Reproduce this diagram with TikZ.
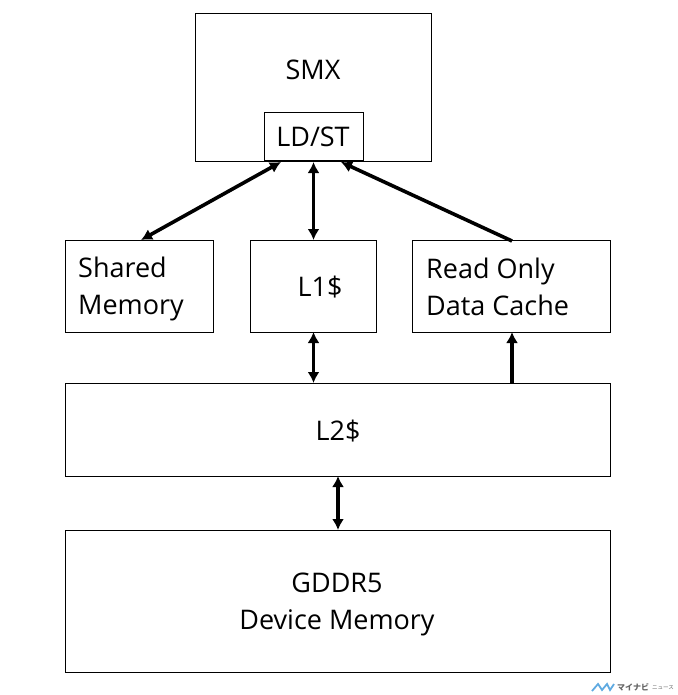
\documentclass[tikz,border=0pt]{standalone}
\usepackage{fontspec}
\setmainfont{Open Sans}
\newfontfamily\cjkfont{Noto Sans CJK JP}
\usetikzlibrary{calc}
\usetikzlibrary{arrows.meta}
\definecolor{logoblue}{RGB}{95,170,225}
\tikzset{
  block/.style={draw=black,line width=1.4pt,inner sep=0pt},
  label/.style={font=\fontsize{27}{37}\selectfont,align=left,inner sep=0pt},
  link/.style={line width=3.6pt,{Latex[length=11pt,width=12pt]}-{Latex[length=11pt,width=12pt]}},
  uplink/.style={line width=3.6pt,-{Latex[length=11pt,width=12pt]}}
}
\begin{document}
\begin{tikzpicture}[x=1pt,y=-1pt]
\useasboundingbox (0, 0) rectangle (677, 695);

\node [block,minimum width=236,minimum height=148,anchor=north west] (SMX) at (194.5, 13) {};
\node [label] (SMXtext) at (313, 70) {SMX};
\node [block,fill=white,minimum width=99,minimum height=48,anchor=north west] (LDST) at (263.5, 112) {};
\node [label] (LDSTtext) at (313, 137) {LD/ST};
\node [block,minimum width=148,minimum height=92,anchor=north west] (Shared) at (65, 240) {};
\node [label,anchor=west] (Sharedtext) at (78, 289) {Shared\\Memory};
\node [block,minimum width=126,minimum height=92,anchor=north west] (L1) at (250, 240) {};
\node [label] (L1text) at (320, 287) {L1\$};
\node [block,minimum width=198,minimum height=92,anchor=north west] (ROC) at (412, 240) {};
\node [label,anchor=west] (ROCtext) at (426, 287) {Read Only\\Data Cache};
\node [block,minimum width=545,minimum height=93,anchor=north west] (L2) at (65, 383) {};
\node [label] (L2text) at (338, 431) {L2\$};
\node [block,minimum width=545,minimum height=142,anchor=north west] (GDDR) at (65, 530) {};
\node [label,align=center] (GDDRtext) at (337, 604) {GDDR5\\Device Memory};

\coordinate (LDleft) at (281, 162);
\coordinate (LDmid) at (313.5, 162);
\coordinate (LDright) at (341, 162);
\coordinate (Sharedtop) at (141, 240);
\coordinate (L1top) at (313.5, 240);
\coordinate (ROCtop) at (512, 241);
\coordinate (L1bot) at (313.5, 332);
\coordinate (L2a) at (313.5, 383);
\coordinate (ROCbot) at (512, 332);
\coordinate (L2b) at (512, 383);
\coordinate (L2c) at (338, 476);
\coordinate (GDDRtop) at (338, 530);

\draw [link] (LDleft)--(Sharedtop);
\draw [link] (LDmid)--(L1top);
\draw [uplink] (ROCtop)--(LDright);
\draw [link] (L1bot)--(L2a);
\draw [uplink] (L2b)--(ROCbot);
\draw [link] (L2c)--(GDDRtop);

% logo
\draw [logoblue,line width=1.8pt] (592, 691)--(598, 684)--(602, 690)--(607, 684)--(610, 690)--(614, 684);
\node [anchor=west,inner sep=0pt,font=\fontsize{8}{9}\cjkfont\bfseries,text=black!60] (logo) at (617, 687) {マイナビ};
\node [anchor=west,inner sep=0pt,font=\fontsize{5.5}{8}\cjkfont,text=black!60] (logob) at (652, 688) {ニュース};

\end{tikzpicture}
\end{document}
